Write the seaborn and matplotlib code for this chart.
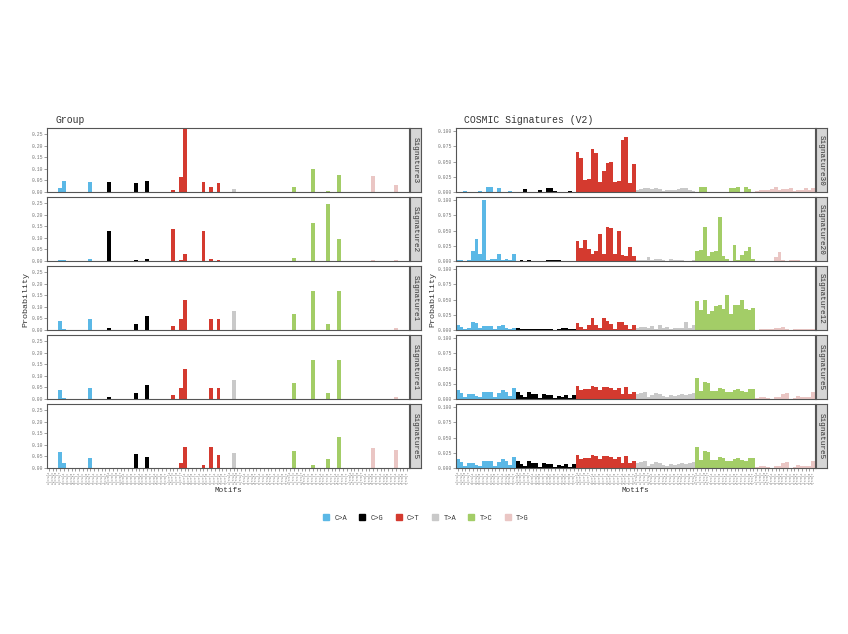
import numpy as np
import pandas as pd
import seaborn as sns
import matplotlib.pyplot as plt
from matplotlib.ticker import FormatStrFormatter

# mutation classes and trinucleotide contexts
mut_types = ['C>A', 'C>G', 'C>T', 'T>A', 'T>C', 'T>G']
bases = ['A', 'C', 'G', 'T']
motifs = [f'{a}[{m}]{b}' for m in mut_types for a in bases for b in bases]
colors = ['#5bb8e6', '#000000', '#d43a2f', '#c9c9c9', '#a3cd67', '#eac6c4']

# left panel: extracted group signatures (16 values per mutation class)
group_sig3 = [0, 0, 0, 0.016, 0.046, 0, 0, 0, 0, 0, 0, 0.042, 0, 0, 0, 0,
              0.045, 0, 0, 0, 0, 0, 0, 0.04, 0, 0, 0.048, 0, 0, 0, 0, 0,
              0, 0.01, 0, 0.065, 0.277, 0, 0, 0, 0, 0.045, 0, 0.02, 0, 0.04, 0, 0,
              0, 0.012, 0, 0, 0, 0, 0, 0, 0, 0, 0, 0, 0, 0, 0, 0,
              0, 0.02, 0, 0, 0, 0, 0.1, 0, 0, 0, 0.005, 0, 0, 0.072, 0, 0,
              0, 0, 0, 0, 0, 0, 0.068, 0, 0, 0, 0, 0, 0.032, 0, 0, 0]
group_sig2 = [0, 0, 0, 0.003, 0.003, 0, 0, 0, 0, 0, 0, 0.008, 0, 0, 0, 0,
              0.128, 0, 0, 0, 0, 0, 0, 0.005, 0, 0, 0.008, 0, 0, 0, 0, 0,
              0, 0.137, 0, 0.005, 0.029, 0, 0, 0, 0, 0.128, 0, 0.01, 0, 0.005, 0, 0,
              0, 0.002, 0, 0, 0, 0, 0, 0, 0, 0, 0, 0, 0, 0, 0, 0,
              0, 0.015, 0, 0, 0, 0, 0.166, 0, 0, 0, 0.245, 0, 0, 0.097, 0, 0,
              0, 0, 0, 0, 0, 0, 0.006, 0, 0, 0, 0, 0, 0.004, 0, 0, 0]
group_sig1 = [0, 0, 0, 0.04, 0.003, 0, 0, 0, 0, 0, 0, 0.046, 0, 0, 0, 0,
              0.007, 0, 0, 0, 0, 0, 0, 0.025, 0, 0, 0.059, 0, 0, 0, 0, 0,
              0, 0.017, 0, 0.047, 0.13, 0, 0, 0, 0, 0, 0, 0.048, 0, 0.048, 0, 0,
              0, 0.081, 0, 0, 0, 0, 0, 0, 0, 0, 0, 0, 0, 0, 0, 0,
              0, 0.07, 0, 0, 0, 0, 0.168, 0, 0, 0, 0.025, 0, 0, 0.168, 0, 0,
              0, 0, 0, 0, 0, 0, 0, 0, 0, 0, 0, 0, 0.008, 0, 0, 0]
group_sig5 = [0, 0, 0, 0.069, 0.021, 0, 0, 0, 0, 0, 0, 0.042, 0, 0, 0, 0,
              0.002, 0, 0, 0, 0, 0, 0, 0.062, 0, 0, 0.047, 0, 0, 0, 0, 0,
              0, 0.002, 0, 0.023, 0.09, 0, 0, 0, 0, 0.015, 0, 0.089, 0, 0.058, 0, 0,
              0, 0.064, 0, 0, 0, 0, 0, 0, 0, 0, 0, 0, 0, 0, 0, 0,
              0, 0.075, 0, 0, 0, 0, 0.012, 0, 0, 0, 0.037, 0, 0, 0.135, 0, 0,
              0, 0, 0, 0, 0, 0, 0.085, 0, 0, 0, 0, 0, 0.079, 0, 0, 0]

# right panel: COSMIC V2 reference signatures
cosmic_sig30 = [0, 0.0005, 0.001, 0, 0.0005, 0, 0.002, 0, 0.008, 0.008, 0, 0.007, 0.0005, 0.0005, 0.001, 0.0005,
                0, 0, 0.005, 0, 0, 0, 0.003, 0, 0.006, 0.006, 0.002, 0, 0, 0, 0.002, 0,
                0.066, 0.055, 0.02, 0.021, 0.07, 0.064, 0.017, 0.034, 0.048, 0.049, 0.016, 0.018, 0.086, 0.09, 0.015, 0.046,
                0.004, 0.005, 0.006, 0.007, 0.005, 0.006, 0.005, 0.002, 0.003, 0.004, 0.004, 0.005, 0.006, 0.006, 0.004, 0.002,
                0, 0.008, 0.008, 0, 0, 0, 0, 0, 0, 0.006, 0.007, 0.008, 0, 0.008, 0.005, 0,
                0.002, 0.003, 0.004, 0.003, 0.005, 0.008, 0.004, 0.005, 0.005, 0.006, 0.002, 0.003, 0.004, 0.006, 0.004, 0.006]
cosmic_sig20 = [0.001, 0.001, 0.0005, 0.002, 0.017, 0.036, 0.012, 0.1, 0.002, 0.003, 0.003, 0.012, 0.001, 0.004, 0.002, 0.011,
                0, 0.002, 0, 0.001, 0, 0, 0, 0, 0.001, 0.002, 0.002, 0.001, 0, 0, 0, 0,
                0.033, 0.021, 0.034, 0.019, 0.011, 0.017, 0.044, 0.011, 0.056, 0.054, 0.011, 0.05, 0.01, 0.008, 0.023, 0.009,
                0.001, 0.001, 0.002, 0.007, 0.001, 0.003, 0.003, 0.002, 0, 0.003, 0.002, 0.002, 0.001, 0, 0, 0.001,
                0.016, 0.018, 0.055, 0.009, 0.014, 0.017, 0.073, 0.009, 0.003, 0, 0.027, 0.002, 0.01, 0.016, 0.023, 0.004,
                0, 0, 0, 0, 0, 0.007, 0.014, 0.001, 0, 0.002, 0.002, 0.002, 0, 0, 0, 0]
cosmic_sig12 = [0.008, 0.005, 0.001, 0.004, 0.013, 0.011, 0.003, 0.007, 0.006, 0.006, 0.002, 0.006, 0.009, 0.003, 0.001, 0.003,
                0.003, 0.001, 0.002, 0.002, 0.001, 0.001, 0.002, 0.001, 0.001, 0.002, 0, 0.001, 0.003, 0.003, 0.001, 0.001,
                0.011, 0.005, 0.002, 0.008, 0.019, 0.008, 0.004, 0.02, 0.014, 0.01, 0.002, 0.013, 0.013, 0.009, 0.001, 0.009,
                0.004, 0.005, 0.005, 0.003, 0.007, 0.002, 0.008, 0.003, 0.005, 0.002, 0.003, 0.004, 0.003, 0.013, 0.003, 0.008,
                0.047, 0.032, 0.049, 0.026, 0.031, 0.039, 0.041, 0.034, 0.057, 0.027, 0.041, 0.041, 0.05, 0.034, 0.033, 0.036,
                0, 0.001, 0.002, 0.002, 0.001, 0.003, 0.004, 0.005, 0.001, 0, 0.001, 0.002, 0.002, 0.001, 0.002, 0.002]
cosmic_sig5 = [0.015, 0.01, 0.004, 0.009, 0.009, 0.005, 0.004, 0.011, 0.012, 0.011, 0.004, 0.01, 0.014, 0.012, 0.005, 0.018,
               0.012, 0.007, 0.003, 0.011, 0.008, 0.008, 0.002, 0.009, 0.006, 0.006, 0.001, 0.005, 0.004, 0.007, 0.002, 0.006,
               0.021, 0.014, 0.016, 0.017, 0.022, 0.019, 0.014, 0.019, 0.019, 0.018, 0.014, 0.018, 0.009, 0.02, 0.008, 0.012,
               0.008, 0.01, 0.011, 0.004, 0.006, 0.01, 0.008, 0.005, 0.004, 0.006, 0.005, 0.007, 0.009, 0.006, 0.008, 0.01,
               0.035, 0.013, 0.028, 0.027, 0.013, 0.013, 0.018, 0.017, 0.012, 0.012, 0.015, 0.016, 0.013, 0.012, 0.016, 0.016,
               0.002, 0.004, 0.003, 0.001, 0, 0.003, 0.004, 0.008, 0.01, 0, 0.001, 0.005, 0.003, 0.004, 0.004, 0.012]

left_rows = [('Signature3', group_sig3), ('Signature2', group_sig2), ('Signature1', group_sig1),
             ('Signature1', group_sig1), ('Signature5', group_sig5)]
right_rows = [('Signature30', cosmic_sig30), ('Signature20', cosmic_sig20), ('Signature12', cosmic_sig12),
              ('Signature5', cosmic_sig5), ('Signature5', cosmic_sig5)]

sns.set_theme(style='white')
plt.rcParams['font.family'] = ['Liberation Mono', 'DejaVu Sans']

W, H = 848, 634
fig = plt.figure(figsize=(W / 100, H / 100), dpi=100)
row_tops = [128, 197, 266, 335, 404]
row_h = 64
edge = '#555555'


def draw_panel(x0, x1, rows, ymax, ticks, fmt, title):
    for r, (name, vals) in enumerate(rows):
        top = row_tops[r]
        ax = fig.add_axes([x0 / W, 1 - (top + row_h) / H, (x1 - x0) / W, row_h / H])
        df = pd.DataFrame({'motif': motifs, 'prob': vals, 'type': np.repeat(mut_types, 16)})
        sns.barplot(data=df, x='motif', y='prob', hue='type', order=motifs, hue_order=mut_types,
                    palette=colors, dodge=False, width=1.0, saturation=1, linewidth=0,
                    legend=False, ax=ax)
        ax.set_xlim(-0.5, 95.5)
        ax.set_ylim(0, ymax)
        ax.set_yticks(ticks)
        ax.yaxis.set_major_formatter(FormatStrFormatter(fmt))
        ax.set_xlabel('')
        ax.set_ylabel('')
        for s in ax.spines.values():
            s.set_color(edge)
            s.set_linewidth(0.8)
        ax.tick_params(axis='y', labelsize=3.4, colors='#777777', length=2, width=0.5, pad=1,
                       left=True)
        if r == 4:
            ax.tick_params(axis='x', labelsize=2.1, colors='#777777', length=2, width=0.5,
                           pad=0.5, rotation=90, bottom=True)
        else:
            ax.set_xticklabels([])
            ax.tick_params(axis='x', length=0)
        # facet strip on the right
        sx = fig.add_axes([(x1 + 1) / W, 1 - (top + row_h) / H, 11 / W, row_h / H])
        sx.set_facecolor('#d6d6d6')
        sx.set_xticks([])
        sx.set_yticks([])
        for s in sx.spines.values():
            s.set_color(edge)
            s.set_linewidth(0.8)
        sx.text(0.5, 0.5, name, rotation=270, ha='center', va='center', fontsize=5.5,
                color='#333333', transform=sx.transAxes)
    fig.text((x0 + 8) / W, 1 - 120 / H, title, fontsize=7, color='#333333', va='center')
    fig.text((x0 + x1) / 2 / W, 1 - 490 / H, 'Motifs', fontsize=5.5, color='#333333',
             ha='center', va='center')


draw_panel(47, 409, left_rows, 0.277, [0, 0.05, 0.10, 0.15, 0.20, 0.25], '%.2f', 'Group')
draw_panel(456, 815, right_rows, 0.105, [0, 0.025, 0.05, 0.075, 0.1], '%.3f', 'COSMIC Signatures (V2)')

fig.text(26 / W, 1 - 300 / H, 'Probability', rotation=90, fontsize=6, color='#333333',
         ha='center', va='center')
fig.text(433 / W, 1 - 300 / H, 'Probability', rotation=90, fontsize=6, color='#333333',
         ha='center', va='center')

handles = [plt.Line2D([], [], marker='s', linestyle='', color=c, markersize=4) for c in colors]
fig.legend(handles, mut_types, loc='center', bbox_to_anchor=(0.5, 1 - 518 / H), ncol=6,
           frameon=False, fontsize=5, handletextpad=0.2, columnspacing=1.2, labelcolor='#333333')

fig.savefig('out.png', dpi=100)
